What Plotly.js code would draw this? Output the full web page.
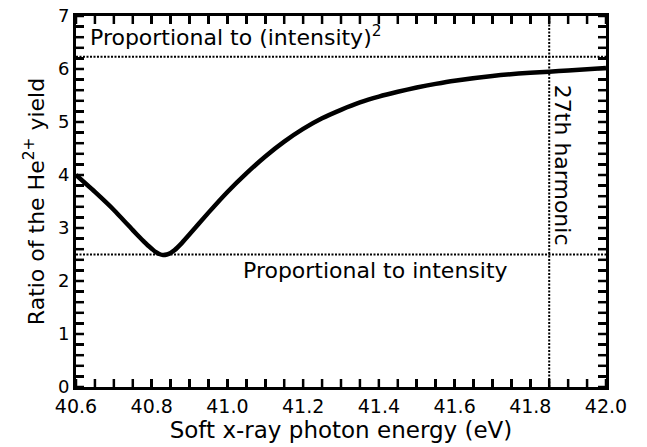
<!DOCTYPE html>
<html>
<head>
<meta charset="utf-8">
<script src="https://cdn.plot.ly/plotly-3.0.1.min.js"></script>
<style>
  html, body { margin: 0; padding: 0; background: #fff; }
  #chart { width: 647px; height: 447px; }
</style>
</head>
<body>
<div id="chart"></div>
<script>
// Photon energy (eV) and ratio of the He2+ yield
const energy = [40.60, 40.65, 40.70, 40.75, 40.77, 40.78, 40.79, 40.80, 40.81, 40.82, 40.83, 40.84, 40.85, 40.86, 40.88, 40.90, 40.95, 41.00, 41.05, 41.10, 41.15, 41.20, 41.25, 41.30, 41.35, 41.40, 41.45, 41.50, 41.55, 41.60, 41.70, 41.80, 41.85, 41.90, 42.00];
const ratio  = [4.00, 3.68, 3.34, 2.96, 2.81, 2.74, 2.67, 2.61, 2.55, 2.51, 2.49, 2.50, 2.53, 2.58, 2.72, 2.88, 3.29, 3.68, 4.03, 4.35, 4.63, 4.87, 5.07, 5.23, 5.37, 5.48, 5.57, 5.65, 5.72, 5.78, 5.87, 5.93, 5.95, 5.97, 6.02];

// Reference levels
const linearLevel = 2.5;     // proportional to intensity
const quadraticLevel = 6.23; // proportional to intensity squared
const harmonic27 = 41.85;    // 27th harmonic photon energy

// Axis extents
const xRange = [40.6, 42.0];
const yRange = [0, 7];

// Tick positions: a labelled tick every 0.2 eV / 1 unit, unlabelled ones between
const xTickVals = [40.6, 40.65, 40.7, 40.75, 40.8, 40.85, 40.9, 40.95, 41.0, 41.05, 41.1, 41.15, 41.2, 41.25, 41.3, 41.35, 41.4, 41.45, 41.5, 41.55, 41.6, 41.65, 41.7, 41.75, 41.8, 41.85, 41.9, 41.95, 42.0];
const xTickText = ['40.6', '', '', '', '40.8', '', '', '', '41.0', '', '', '', '41.2', '', '', '', '41.4', '', '', '', '41.6', '', '', '', '41.8', '', '', '', '42.0'];
const yTickVals = [0, 0.2, 0.4, 0.6, 0.8, 1, 1.2, 1.4, 1.6, 1.8, 2, 2.2, 2.4, 2.6, 2.8, 3, 3.2, 3.4, 3.6, 3.8, 4, 4.2, 4.4, 4.6, 4.8, 5, 5.2, 5.4, 5.6, 5.8, 6, 6.2, 6.4, 6.6, 6.8, 7];
const yTickText = ['0', '', '', '', '', '1', '', '', '', '', '2', '', '', '', '', '3', '', '', '', '', '4', '', '', '', '', '5', '', '', '', '', '6', '', '', '', '', '7'];

const FONT = 'DejaVu Sans, Verdana, sans-serif';
const dotted = { color: '#000', width: 2, dash: '2px,1.5px' };
const tickLine = { color: '#000', width: 2.5 };

// Inward tick marks on all four sides of the frame (about 8 px long),
// expressed as fractions of the plotting area.
const TICK_FX = 8 / 530;   // horizontal tick length as a fraction of plot width
const TICK_FY = 8 / 371;   // vertical tick length as a fraction of plot height
const tickShapes = [];
xTickVals.forEach(v => {
  tickShapes.push({ type: 'line', xref: 'x', yref: 'paper', x0: v, x1: v, y0: 0, y1: TICK_FY, line: tickLine, layer: 'above' });
  tickShapes.push({ type: 'line', xref: 'x', yref: 'paper', x0: v, x1: v, y0: 1, y1: 1 - TICK_FY, line: tickLine, layer: 'above' });
});
yTickVals.forEach(v => {
  tickShapes.push({ type: 'line', xref: 'paper', yref: 'y', y0: v, y1: v, x0: 0, x1: TICK_FX, line: tickLine, layer: 'above' });
  tickShapes.push({ type: 'line', xref: 'paper', yref: 'y', y0: v, y1: v, x0: 1, x1: 1 - TICK_FX, line: tickLine, layer: 'above' });
});

const traces = [
  {
    x: energy, y: ratio, type: 'scatter', mode: 'lines',
    line: { color: '#000', width: 4.5, shape: 'spline', smoothing: 0.5 },
    hoverinfo: 'skip'
  }
];

const layout = {
  width: 647, height: 447,
  margin: { l: 76, r: 41, t: 16, b: 60 },
  paper_bgcolor: '#fff', plot_bgcolor: '#fff',
  showlegend: false,
  font: { family: FONT, color: '#000' },
  xaxis: {
    range: xRange,
    tickmode: 'array', tickvals: xTickVals, ticktext: xTickText,
    ticks: 'inside', ticklen: 8, tickwidth: 2.5, tickcolor: '#000',
    showline: true, linewidth: 3, linecolor: '#000', mirror: 'ticks',
    showgrid: false, zeroline: false,
    tickfont: { size: 19, family: FONT },
    title: { text: 'Soft x-ray photon energy (eV)', font: { size: 23, family: FONT }, standoff: 0 }
  },
  yaxis: {
    range: yRange,
    tickmode: 'array', tickvals: yTickVals, ticktext: yTickText,
    ticks: 'inside', ticklen: 8, tickwidth: 2.5, tickcolor: '#000',
    showline: true, linewidth: 3, linecolor: '#000', mirror: 'ticks',
    showgrid: false, zeroline: false,
    tickfont: { size: 18, family: FONT },
    title: { text: 'Ratio of the He<sup>2+</sup> yield', font: { size: 22, family: FONT }, standoff: 8 }
  },
  shapes: [
    { type: 'line', xref: 'paper', yref: 'y', x0: 0, x1: 1, y0: linearLevel, y1: linearLevel, line: dotted, layer: 'below' },
    { type: 'line', xref: 'paper', yref: 'y', x0: 0, x1: 1, y0: quadraticLevel, y1: quadraticLevel, line: dotted, layer: 'below' },
    { type: 'line', xref: 'x', yref: 'paper', x0: harmonic27, x1: harmonic27, y0: 0, y1: 1, line: dotted, layer: 'below' }
  ].concat(tickShapes),
  annotations: [
    { xref: 'x', yref: 'y', x: 40.632, y: 6.62, xanchor: 'left', yanchor: 'middle',
      text: 'Proportional to (intensity)<sup>2</sup>', showarrow: false, font: { size: 22, family: FONT } },
    { xref: 'x', yref: 'y', x: 41.39, y: 2.2, xanchor: 'center', yanchor: 'middle',
      text: 'Proportional to intensity', showarrow: false, font: { size: 22, family: FONT } },
    { xref: 'x', yref: 'y', x: 41.884, y: 4.19, xanchor: 'center', yanchor: 'middle', textangle: 90,
      text: '27th harmonic', showarrow: false, font: { size: 22, family: FONT } }
  ]
};

Plotly.newPlot('chart', traces, layout, { staticPlot: true, displayModeBar: false });
</script>
</body>
</html>
